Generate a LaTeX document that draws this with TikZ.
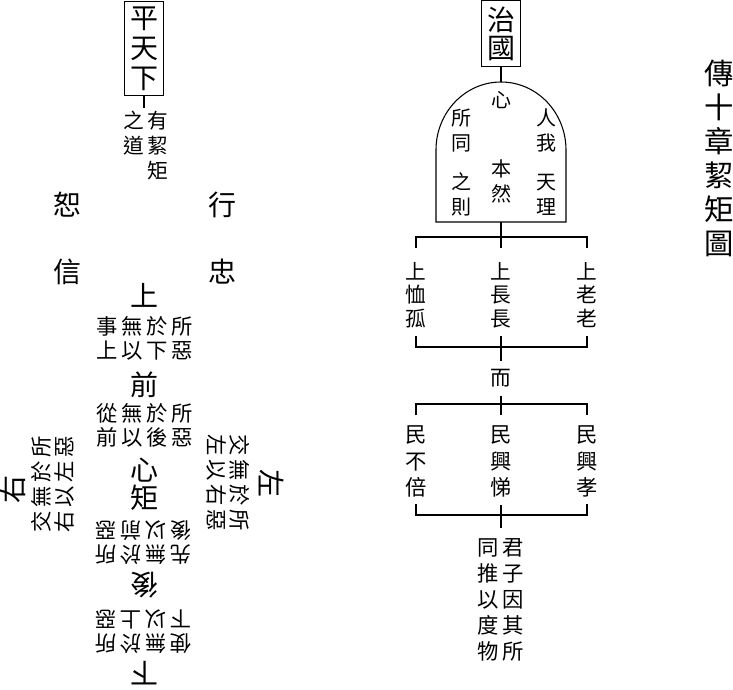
\documentclass[tikz,border=0pt]{standalone}
\usepackage{fontspec}
\setmainfont{Noto Sans CJK TC}
\newfontfamily\spacedcjk[LetterSpace=17]{Noto Sans CJK TC}
\begin{document}
\begin{tikzpicture}[x=0.75pt,y=-0.75pt,line width=0.8pt,
        every node/.style={inner sep=1pt},
        big/.style={font=\fontsize{21}{21}\selectfont,align=center},
        blk/.style={font=\spacedcjk\fontsize{16}{17.5}\selectfont,align=center},
        col/.style={font=\fontsize{15.5}{17.5}\selectfont,align=center},
        domecol/.style={font=\fontsize{15}{18.75}\selectfont,align=center},
        titlebox/.style={draw,inner xsep=4pt,inner ysep=3.5pt,align=center}]
                \useasboundingbox (0,0) rectangle (733,690);
                \node[titlebox,font=\fontsize{21}{22.5}\selectfont] (ptx) at (144,48.5) {平\\天\\下};
                \node[col,align=right,anchor=north,inner sep=2pt,font=\spacedcjk\fontsize{15.5}{18.5}\selectfont] (zhidao) at (146,108) {之有\\道絜\\矩};
                \draw (ptx.south) -- (ptx.south |- zhidao.north);
                \node[big] (shu) at (67,205) {恕};
                \node[big] (xinB) at (67,272) {信};
                \node[big] (xing) at (222,205) {行};
                \node[big] (zhong) at (222,272) {忠};
                \node[big] (shang) at (144,295) {上};
                \node[blk] (suowuA) at (145,338.5) {事無於所\\上以下惡};
                \node[big] (qian) at (144,385) {前};
                \node[blk] (suowuB) at (145,425.5) {從無於所\\前以後惡};
                \node[big] (xinju) at (144,484) {心\\矩};
                \node[blk,rotate=180] (suowuC) at (143,542.5) {先無於所\\後以前惡};
                \node[big,rotate=180] (hou) at (144,585) {後};
                \node[blk,rotate=180] (suowuD) at (143,631.5) {使無於所\\下以上惡};
                \node[big,rotate=180] (xia) at (144,673) {下};
                \node[big,rotate=90] (you) at (13,489) {右};
                \node[blk,rotate=90] (suowuE) at (53,484) {交無於所\\右以左惡};
                \node[big,rotate=-90] (zuo) at (272,483) {左};
                \node[blk,rotate=-90] (suowuF) at (228,483) {交無於所\\左以右惡};
                \node[titlebox,font=\fontsize{21}{21}\selectfont,inner ysep=4.5pt] (zhiguo) at (501,33.5) {治\\國};
                \coordinate (domet) at (501,82);
                \coordinate (domeb) at (501,222);
                \draw (436,222) -- (436,150) arc[start angle=180,end angle=360,x radius=65,y radius=68] -- (566,222) -- cycle;
                \draw (zhiguo.south) -- (domet);
                \node[domecol] (xin) at (501,100) {心};
                \node[domecol] (suotong) at (461,130.5) {所\\同};
                \node[domecol] (zhize) at (461,194.5) {之\\則};
                \node[domecol] (renwo) at (546,130.5) {人\\我};
                \node[domecol] (tianli) at (546,194.5) {天\\理};
                \node[domecol] (benran) at (501,181.5) {本\\然};
                \draw (domeb) -- (501,248);
                \draw (416,248) |- (587,237) -- (587,248);
                \node[col] (shangxu) at (416,295) {上\\恤\\孤};
                \node[col] (shangzhang) at (501,295) {上\\長\\長};
                \node[col] (shanglao) at (587,295) {上\\老\\老};
                \draw (416,336) |- (587,347) -- (587,336);
                \node[col,inner sep=6pt] (er) at (501,378) {而};
                \draw (501,336) -- (er.north);
                \draw (er.south) -- (501,415);
                \draw (416,415) |- (587,404) -- (587,415);
                \node[col,font=\fontsize{16}{20}\selectfont] (minbu) at (416,461.5) {民\\不\\倍};
                \node[col,font=\fontsize{16}{20}\selectfont] (minti) at (501,461.5) {民\\興\\悌};
                \node[col,font=\fontsize{16}{20}\selectfont] (minxiao) at (587,461.5) {民\\興\\孝};
                \draw (416,504) |- (587,515) -- (587,504);
                \draw (501,505) -- (501,528);
                \node[col,font=\fontsize{16}{19.5}\selectfont] (junzi) at (513,600) {君\\子\\因\\其\\所};
                \node[col,font=\fontsize{16}{19.5}\selectfont] (tongtui) at (488,600) {同\\推\\以\\度\\物};
                \node[font=\fontsize{22}{25.5}\selectfont,align=center] (title) at (719,158) {傳\\十\\章\\絜\\矩\\圖};
        \end{tikzpicture}
\end{document}
